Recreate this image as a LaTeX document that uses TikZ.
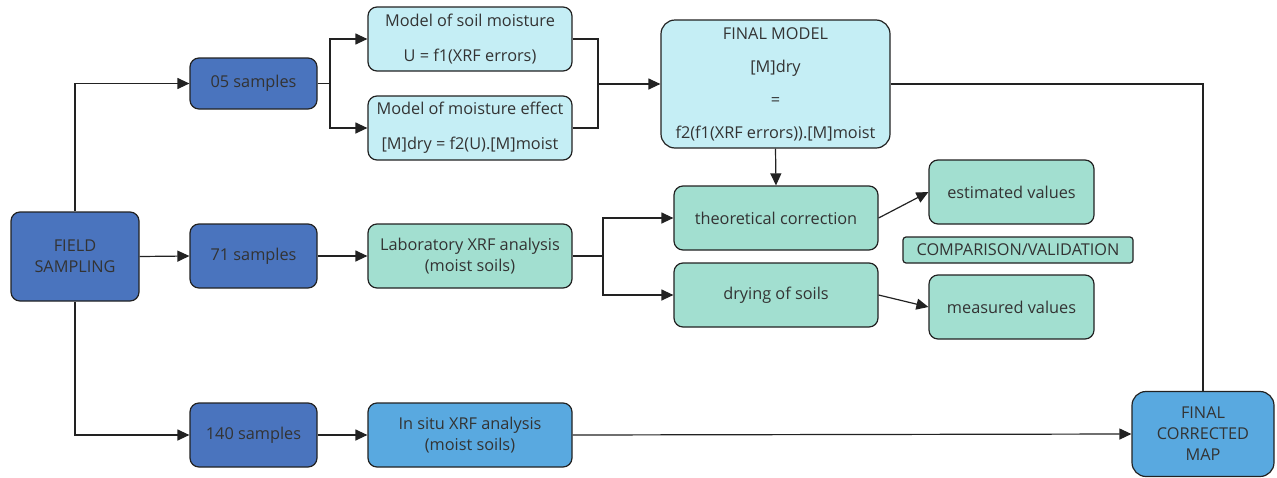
\documentclass[tikz,border=0pt]{standalone}
\usepackage{fontspec}
\setmainfont{Open Sans}
\usetikzlibrary{arrows.meta}
\definecolor{dblue}{HTML}{4A74BE}
\definecolor{lcyan}{HTML}{C5EEF5}
\definecolor{mint}{HTML}{A2DFD0}
\definecolor{mblue}{HTML}{59A9E0}
\definecolor{txt}{HTML}{333333}
\definecolor{edge}{HTML}{222222}
\newcommand\fsz{\fontsize{16.3}{21}\selectfont}
\begin{document}
\begin{tikzpicture}[x=1pt,y=-1pt,
  box/.style={draw=edge, line width=1.2pt, rounded corners=9pt, align=center, text=txt, font=\fsz, inner sep=2pt},
  conn/.style={line width=1.2pt, draw=edge},
  arr/.style={conn, -{Triangle[length=12pt,width=11pt]}}]
\useasboundingbox (0,0) rectangle (1277,477);
% nodes
\node[box, fill=dblue, minimum width=128pt, minimum height=89pt] (field) at (75,256.5) {FIELD\\SAMPLING};
\node[box, fill=dblue, minimum width=127pt, minimum height=51pt] (s05) at (253.5,83.5) {05 samples};
\node[box, fill=dblue, minimum width=127pt, minimum height=64pt] (s71) at (253.5,256) {71 samples};
\node[box, fill=dblue, minimum width=127pt, minimum height=64pt] (s140) at (253.5,435) {140 samples};
\node[box, fill=lcyan, minimum width=204pt, minimum height=64pt] (msm) at (470,39) {Model of soil moisture\\[14pt]U = f1(XRF errors)};
\node[box, fill=lcyan, minimum width=204pt, minimum height=64pt] (mme) at (470,128) {Model of moisture effect\\[14pt][M]dry = f2(U).[M]moist};
\node[box, fill=mint, minimum width=204pt, minimum height=64pt] (lab) at (470,256) {Laboratory XRF analysis\\(moist soils)};
\node[box, fill=mblue, minimum width=204pt, minimum height=64pt] (insitu) at (470,435) {In situ XRF analysis\\(moist soils)};
\node[box, fill=lcyan, minimum width=229pt, minimum height=128pt, rounded corners=14pt] (fm) at (775.5,84) {FINAL MODEL\\[12pt][M]dry\\[12pt]=\\[12pt]f2(f1(XRF errors)).[M]moist};
\node[box, fill=mint, minimum width=204pt, minimum height=64pt] (tc) at (776,218) {theoretical correction};
\node[box, fill=mint, minimum width=204pt, minimum height=64pt] (dry) at (776,295) {drying of soils};
\node[box, fill=mint, minimum width=165pt, minimum height=64pt] (est) at (1011.5,192) {estimated values};
\node[box, fill=mint, minimum width=230pt, minimum height=26pt, rounded corners=3pt] (cmp) at (1018,250) {COMPARISON/VALIDATION};
\node[box, fill=mint, minimum width=165pt, minimum height=64pt] (meas) at (1011.5,307) {measured values};
\node[box, fill=mblue, minimum width=142pt, minimum height=85pt, rounded corners=14pt] (fcm) at (1203,434) {FINAL\\CORRECTED\\MAP};
% connectors
\draw[arr] (field.north) |- (s05.west);
\draw[arr] (field.east) -- (s71.west);
\draw[arr] (field.south) |- (s140.west);
\coordinate (j1) at (330,83.5);
\draw[conn] (s05.east) -- (j1);
\draw[arr] (j1) |- (msm.west);
\draw[arr] (j1) |- (mme.west);
\coordinate (j2) at (598,84);
\draw[conn] (msm.east) -| (j2);
\draw[conn] (mme.east) -| (j2);
\draw[arr] (j2) -- (fm.west);
\draw[conn] (fm.east) -| (fcm.north);
\draw[arr] (fm.south) -- (tc.north);
\draw[arr] (s71.east) -- (lab.west);
\coordinate (j3) at (603,256);
\draw[conn] (lab.east) -- (j3);
\draw[arr] (j3) |- (tc.west);
\draw[arr] (j3) |- (dry.west);
\draw[arr] (tc.east) -- (est.west);
\draw[arr] (dry.east) -- (meas.west);
\draw[arr] (s140.east) -- (insitu.west);
\draw[arr] (insitu.east) -- (fcm.west);
\end{tikzpicture}
\end{document}
